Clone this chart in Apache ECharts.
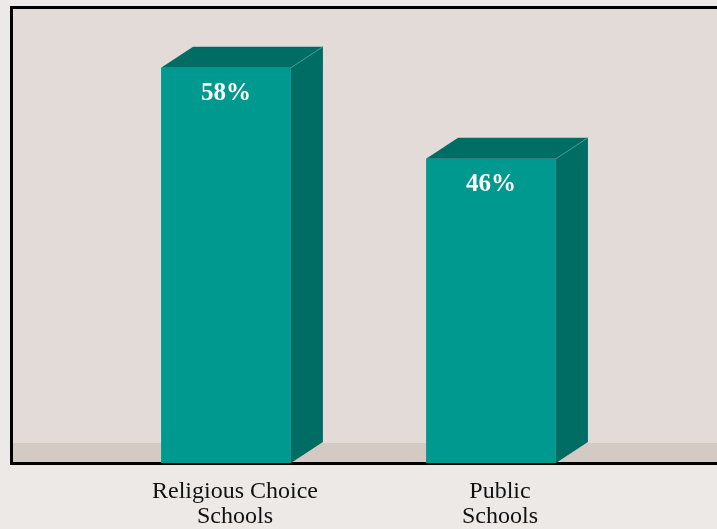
<!DOCTYPE html>
<html>
<head>
<meta charset="utf-8">
<script src="https://cdn.jsdelivr.net/npm/echarts@6/dist/echarts.min.js"></script>
<style>
  html, body { margin: 0; padding: 0; background: #ede9e6; }
  #chart { width: 717px; height: 529px; }
</style>
</head>
<body>
<div id="chart"></div>
<script>
// Share of students, by school type
const categories = ['Religious Choice\nSchools', 'Public\nSchools'];
const values = [58, 46];
const valueLabels = ['58%', '46%'];

const FRONT = '#00998f';
const SHADE = '#006d64';
const EDGE = '#3a9990';
const DEPTH_X = 32;
const DEPTH_Y = 21;

const chart = echarts.init(document.getElementById('chart'));

function renderBar(params, api) {
  const idx = api.value(0);
  const val = api.value(1);
  const top = api.coord([idx, val]);
  const base = api.coord([idx, api.value(2)]);
  const band = api.size([1, 0])[0];
  const w = band * 0.49;
  const x0 = top[0] - w / 2;
  const x1 = top[0] + w / 2;
  const yt = top[1];
  const yb = base[1];
  return {
    type: 'group',
    children: [
      { type: 'rect', shape: { x: x0, y: yt, width: w, height: yb - yt }, style: { fill: FRONT } },
      { type: 'polygon', shape: { points: [[x0, yt], [x1, yt], [x1 + DEPTH_X, yt - DEPTH_Y], [x0 + DEPTH_X, yt - DEPTH_Y]] }, style: { fill: SHADE } },
      { type: 'polygon', shape: { points: [[x1, yt], [x1 + DEPTH_X, yt - DEPTH_Y], [x1 + DEPTH_X, yb - DEPTH_Y], [x1, yb]] }, style: { fill: SHADE } },
      { type: 'line', shape: { x1: x1, y1: yt, x2: x1 + DEPTH_X, y2: yt - DEPTH_Y }, style: { stroke: EDGE, lineWidth: 1 } },
      { type: 'text', x: top[0], y: yt + 26, style: {
          text: valueLabels[idx], fill: '#ffffff', font: 'bold 25px "Liberation Serif", serif',
          align: 'center', verticalAlign: 'middle' } }
    ]
  };
}

const option = {
  backgroundColor: '#ede9e6',
  animation: false,
  graphic: [
    { type: 'rect', z: -10, shape: { x: 11.5, y: 7.5, width: 720, height: 456 },
      style: { fill: '#e2dbd8', stroke: '#000000', lineWidth: 3 } },
    { type: 'rect', z: -9, shape: { x: 13, y: 443, width: 720, height: 19 },
      style: { fill: '#d3cac4' } }
  ],
  grid: { left: 93.5, right: 93.5, top: 7, bottom: 66 },
  xAxis: {
    type: 'category',
    data: categories,
    axisLine: { show: false },
    axisTick: { show: false },
    axisLabel: {
      margin: 16,
      color: '#111111',
      fontFamily: '"Liberation Serif", serif',
      fontSize: 24,
      lineHeight: 25,
      padding: [0, 0, 0, 18]
    }
  },
  yAxis: {
    type: 'value',
    min: 5.9,
    max: 66,
    show: false,
    splitLine: { show: false }
  },
  series: [{
    type: 'custom',
    renderItem: renderBar,
    data: values.map((v, i) => [i, v, 5.9]),
    z: 5
  }]
};

chart.setOption(option);
</script>
</body>
</html>
